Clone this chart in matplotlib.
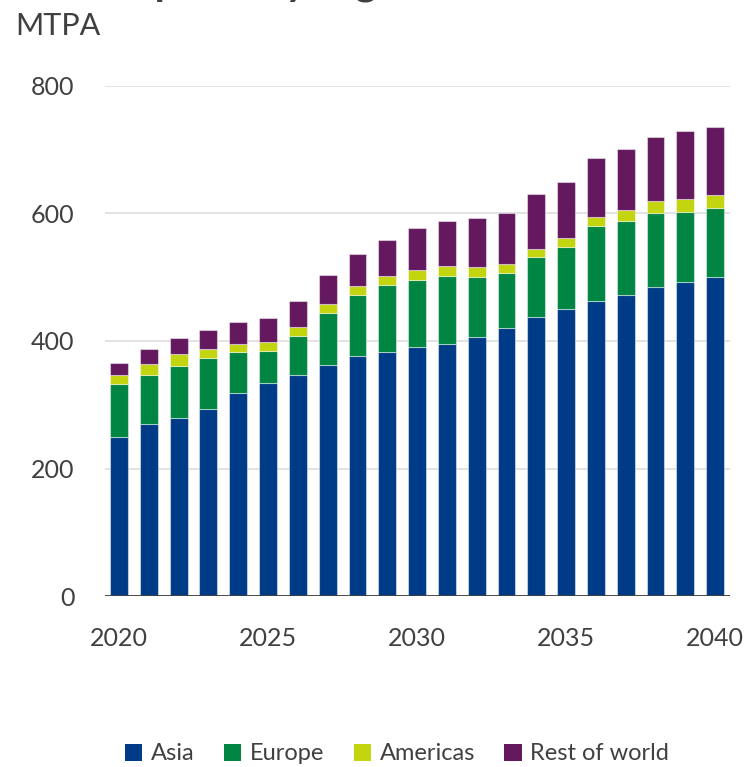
import numpy as np
import matplotlib
matplotlib.use("Agg")
import matplotlib.pyplot as plt
from matplotlib.patches import Patch

# Datos (MTPA)
years = np.arange(2020, 2041)
asia = [250, 270, 279, 293, 318, 334, 347, 362, 376, 383, 390,
        396, 407, 421, 438, 450, 462, 472, 485, 493, 500]
europe = [83, 76, 81, 81, 64, 51, 61, 82, 96, 105, 106,
          106, 94, 85, 93, 97, 118, 116, 115, 109, 108]
americas = [13, 18, 19, 14, 14, 14, 14, 14, 14, 14, 15,
            16, 15, 14, 14, 15, 15, 17, 19, 20, 21]
rest = [20, 24, 25, 30, 34, 37, 41, 46, 51, 57, 66,
        71, 77, 81, 86, 88, 92, 96, 101, 107, 106]
series = ['Asia', 'Europe', 'Americas', 'Rest of world']
colors = ['#003b87', '#008542', '#c3d50f', '#64195f']
yticks = [0, 200, 400, 600, 800]
xticks = [2020, 2025, 2030, 2035, 2040]

txt = '#404040'
plt.rcParams['font.family'] = ['Lato', 'DejaVu Sans']
plt.rcParams['text.color'] = txt

fig = plt.figure(figsize=(7.46, 7.67), dpi=100)
ax = fig.add_axes([105/746, 1-596/767, 625/746, 510/767])

bottom = np.zeros(len(years))
for vals, name, c in zip([asia, europe, americas, rest], series, colors):
    ax.bar(years, vals, width=0.6, bottom=bottom, color=c,
           edgecolor=(1, 1, 1, 0.45), linewidth=0.8, zorder=3)
    bottom += np.array(vals)

ax.set_xlim(2019.53, 2040.5)
ax.set_ylim(0, 800)
ax.set_yticks(yticks)
ax.set_xticks(xticks)
ax.grid(axis='y', color='#dedede', linewidth=1.2, zorder=0)
ax.axhline(0, color=txt, linewidth=1.3, zorder=4)
for s in ['top', 'right', 'left', 'bottom']:
    ax.spines[s].set_visible(False)
ax.tick_params(length=0, labelsize=18, labelcolor=txt)
ax.tick_params(axis='y', pad=22)
ax.tick_params(axis='x', pad=22)

# Titulo cortado en la parte superior y unidades
fig.text(15/746, 1 + 6/767, 'LNG imports by region', fontsize=30,
         fontweight='bold', color=txt, va='baseline', ha='left')
fig.text(15/746, 1 - 35/767, 'MTPA', fontsize=22, color=txt,
         va='baseline', ha='left')

handles = [Patch(facecolor=c, edgecolor='none') for c in colors]
fig.legend(handles, series, loc='center', bbox_to_anchor=(397/746, 1 - 754/767),
           ncol=4, frameon=False, fontsize=17, handlelength=0.75,
           handleheight=0.75, handletextpad=0.35, columnspacing=1.25)

fig.savefig('out.png', dpi=100)
